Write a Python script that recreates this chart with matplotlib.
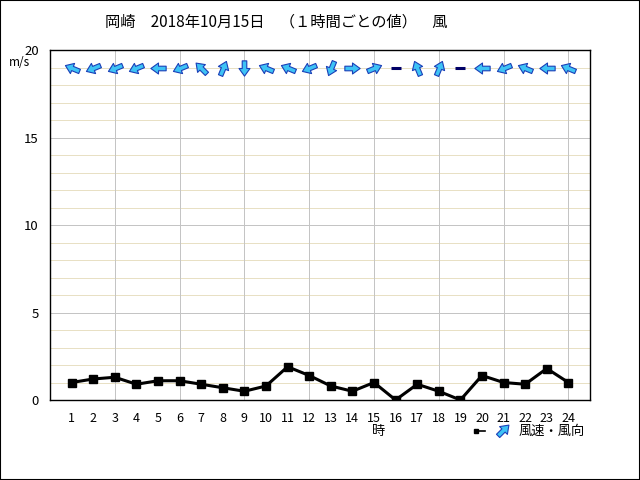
import matplotlib
matplotlib.use("Agg")
import matplotlib.pyplot as plt
import numpy as np
from matplotlib.lines import Line2D
from matplotlib.markers import MarkerStyle
from matplotlib.patches import Rectangle
from matplotlib.path import Path
from matplotlib.transforms import Affine2D

plt.rcParams["font.family"] = ["Noto Sans CJK JP", "DejaVu Sans"]

TITLE = "岡崎　2018年10月15日　（１時間ごとの値）　風"

hours = list(range(1, 25))
wind_speed = [1.0, 1.2, 1.3, 0.9, 1.1, 1.1, 0.9, 0.7, 0.5, 0.8, 1.9, 1.4,
              0.8, 0.5, 1.0, 0.0, 0.9, 0.5, 0.0, 1.4, 1.0, 0.9, 1.8, 1.0]
# direction the wind blows from (16 points), "calm" = 静穏
wind_from = ["ESE", "ENE", "ENE", "ENE", "E", "ENE", "SE", "SSW",
             "N", "ESE", "ESE", "ENE", "NNE", "W", "WSW", "calm",
             "SSE", "SSW", "calm", "E", "ENE", "ESE", "E", "ESE"]

COMPASS = ["N", "NNE", "NE", "ENE", "E", "ESE", "SE", "SSE",
           "S", "SSW", "SW", "WSW", "W", "WNW", "NW", "NNW"]

ARROW_FILL = "#3ec3f5"
ARROW_EDGE = "#1a3fb8"
CALM_COL = "#000066"
MINOR_GRID = "#e8e0c4"
MAJOR_GRID = "#c4c4c4"
ARROW_ROW = 19
ONE_PX = 0.72

# chunky block arrow pointing to +x
arrow_verts = [(-0.5, -0.15), (0.0, -0.15), (0.0, -0.36), (0.5, 0.0),
               (0.0, 0.36), (0.0, 0.15), (-0.5, 0.15), (-0.5, -0.15)]
arrow_path = Path(arrow_verts, closed=True)


def arrow_marker(math_angle):
    return MarkerStyle(arrow_path, transform=Affine2D().rotate_deg(math_angle))


def to_angle(from_name):
    bearing = COMPASS.index(from_name) * 22.5
    return 90 - (bearing + 180)


fig = plt.figure(figsize=(6.4, 4.8), dpi=100)
fig.patch.set_facecolor("white")
ax = fig.add_axes([50 / 640, 80 / 480, 540 / 640, 350 / 480])

ax.set_xlim(0, 25)
ax.set_ylim(0, 20)

for yv in range(1, 20):
    if yv % 5 == 0:
        continue
    ax.axhline(yv, color=MINOR_GRID, linewidth=ONE_PX, zorder=0, antialiased=False)
for yv in (5, 10, 15):
    ax.axhline(yv, color=MAJOR_GRID, linewidth=ONE_PX, zorder=0.5, antialiased=False)
for xv in range(3, 25, 3):
    ax.axvline(xv, color=MAJOR_GRID, linewidth=ONE_PX, zorder=0.5, antialiased=False)

ax.plot(hours, wind_speed, color="black", linewidth=2.2, marker="s",
        markersize=5.5, zorder=3)

for hour, name in zip(hours, wind_from):
    if name == "calm":
        ax.plot([hour], [ARROW_ROW], marker="_", markersize=7.5,
                markeredgewidth=2.2, color=CALM_COL, zorder=4)
    else:
        ax.plot([hour], [ARROW_ROW], linestyle="none",
                marker=arrow_marker(to_angle(name)), markersize=11,
                markerfacecolor=ARROW_FILL, markeredgecolor=ARROW_EDGE,
                markeredgewidth=0.8, zorder=4)

ax.set_xticks(hours)
ax.set_xticklabels([str(h) for h in hours], fontsize=9)
ax.set_yticks([0, 5, 10, 15, 20])
ax.set_yticklabels(["0", "5", "10", "15", "20"], fontsize=9.5)
ax.tick_params(axis="both", length=0, colors="black")
ax.tick_params(axis="x", pad=9)
ax.tick_params(axis="y", pad=8)
for spine in ax.spines.values():
    spine.set_color("black")
    spine.set_linewidth(1)

fig.text(276 / 640, 1 - 22 / 480, TITLE, fontsize=11, ha="center", va="center")
fig.text(19 / 640, 1 - 62 / 480, "m/s", fontsize=8.5, ha="center", va="center")
fig.text(379 / 640, 1 - 431 / 480, "時", fontsize=9.5, ha="center", va="center")

# legend
legend_y = 1 - 431 / 480
fig.add_artist(Line2D([475 / 640, 485 / 640], [legend_y, legend_y],
                      color="black", linewidth=1.2, transform=fig.transFigure))
fig.add_artist(Line2D([476 / 640], [legend_y], marker="s", markersize=2.5,
                      color="black", transform=fig.transFigure))
fig.add_artist(Line2D([503 / 640], [1 - 430 / 480], linestyle="none",
                      marker=arrow_marker(45), markersize=11,
                      markerfacecolor=ARROW_FILL, markeredgecolor=ARROW_EDGE,
                      markeredgewidth=0.8, transform=fig.transFigure))
fig.text(519 / 640, legend_y, "風速・風向", fontsize=9.5, ha="left", va="center")

fig.add_artist(Rectangle((0, 0), 1, 1, transform=fig.transFigure, fill=False,
                         edgecolor="black", linewidth=1.5))

fig.savefig("out.png", dpi=100)
